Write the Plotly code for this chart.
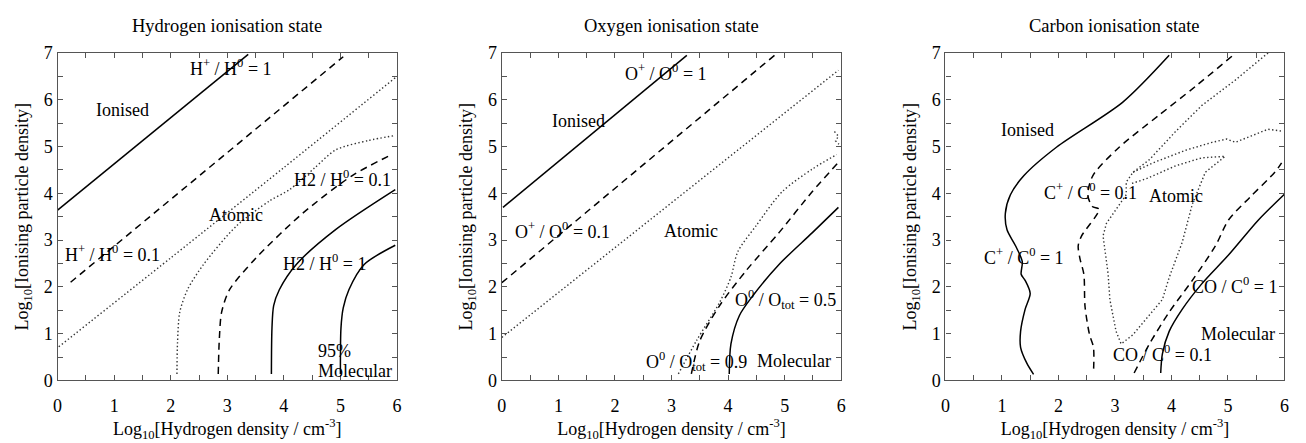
import plotly.graph_objects as go

# ---------------- Data (log10 n_H , log10 ionising particle density) ----------------
# Hydrogen panel
h_ion1_x = [0.0, 3.37]
h_ion1_y = [3.64, 6.97]
h_ion01_x = [0.23, 5.05]
h_ion01_y = [2.10, 6.92]
h_dot1_x = [0.02, 2.0, 4.0, 6.0]
h_dot1_y = [0.72, 2.62, 4.55, 6.50]
h_dot2_x = [2.11, 2.12, 2.16, 2.30, 2.58, 3.16, 3.75, 4.10, 4.55, 4.92, 5.50, 5.94]
h_dot2_y = [0.14, 0.80, 1.46, 1.95, 2.48, 3.30, 3.84, 4.08, 4.55, 4.93, 5.13, 5.23]
h_h2_01_x = [2.84, 2.86, 2.90, 3.04, 3.51, 4.33, 5.21, 5.91]
h_h2_01_y = [0.14, 0.90, 1.46, 1.94, 2.62, 3.57, 4.38, 4.83]
h_h2_1_x = [3.78, 3.79, 3.82, 3.92, 4.22, 4.92, 5.97]
h_h2_1_y = [0.14, 1.12, 1.60, 1.94, 2.48, 3.23, 4.08]
h_95_x = [5.00, 5.01, 5.05, 5.15, 5.42, 5.97]
h_95_y = [0.14, 1.12, 1.55, 1.94, 2.48, 2.89]

# Oxygen panel
o_ion1_x = [0.02, 3.27]
o_ion1_y = [3.70, 6.95]
o_ion01_x = [0.0, 4.84]
o_ion01_y = [2.09, 6.97]
o_dot1_x = [0.0, 5.95]
o_dot1_y = [0.92, 6.63]
o_dot2_x = [3.12, 3.44, 3.85, 4.05, 4.17, 4.49, 4.96, 5.49, 5.92]
o_dot2_y = [0.14, 0.85, 1.67, 2.21, 2.75, 3.30, 4.04, 4.52, 4.83]
o_dot3_x = [5.88, 5.95, 5.90, 5.96]
o_dot3_y = [5.32, 5.22, 5.12, 5.05]
o_09_x = [3.35, 3.50, 3.85, 4.32, 4.90, 5.49, 5.95]
o_09_y = [0.14, 0.85, 1.60, 2.35, 3.16, 4.04, 4.66]
o_05_x = [4.02, 4.05, 4.20, 4.43, 4.90, 5.49, 5.95]
o_05_y = [0.14, 0.78, 1.39, 1.80, 2.48, 3.16, 3.70]

# Carbon panel
c_ion1_x = [3.96, 3.14, 1.97, 1.39, 1.15, 1.06, 1.09, 1.24, 1.36, 1.34, 1.41, 1.50, 1.41, 1.33, 1.33, 1.44, 1.56]
c_ion1_y = [6.95, 5.95, 4.99, 4.38, 3.97, 3.57, 3.22, 2.88, 2.54, 2.27, 2.14, 1.86, 1.52, 1.05, 0.71, 0.37, 0.13]
c_ion01_x = [5.07, 4.43, 3.78, 3.08, 2.61, 2.52, 2.60, 2.72, 2.41, 2.35, 2.38, 2.45, 2.47, 2.55, 2.62, 2.62]
c_ion01_y = [6.93, 6.29, 5.67, 4.99, 4.38, 3.97, 3.72, 3.66, 3.09, 2.88, 2.61, 2.27, 1.59, 0.98, 0.71, 0.16]
c_dotA_x = [5.71, 5.13, 4.54, 4.08, 3.61, 3.32, 3.20, 3.20, 2.85, 2.79, 2.88, 2.91, 3.02, 3.11, 3.32, 3.61,
            3.84, 3.96, 4.19, 4.37, 4.60, 4.95, 4.54, 4.08, 3.55, 3.27]
c_dotA_y = [7.00, 6.42, 5.88, 5.33, 4.72, 4.45, 4.24, 3.97, 3.36, 3.09, 2.27, 1.73, 1.05, 0.78, 0.98, 1.39,
            1.73, 2.20, 2.95, 3.77, 4.45, 4.79, 4.76, 4.59, 4.31, 4.20]
c_dotB_x = [3.32, 3.67, 4.25, 4.72, 4.98, 5.13, 5.42, 5.71, 5.95]
c_dotB_y = [4.45, 4.65, 4.92, 5.09, 5.16, 5.09, 5.23, 5.37, 5.33]
c_co01_x = [3.34, 3.61, 3.96, 4.37, 4.78, 5.01, 5.40, 5.83, 5.95]
c_co01_y = [0.16, 0.78, 1.46, 2.14, 2.88, 3.43, 3.93, 4.45, 4.65]
c_co1_x = [3.81, 3.84, 3.96, 4.19, 4.54, 5.01, 5.54, 6.0]
c_co1_y = [0.16, 0.57, 1.05, 1.52, 2.07, 2.68, 3.43, 3.98]

panel_titles = ["Hydrogen ionisation state", "Oxygen ionisation state", "Carbon ionisation state"]
x_tick_labels = ["0", "1", "2", "3", "4", "5", "6"]
y_tick_labels = ["0", "1", "2", "3", "4", "5", "6", "7"]

# ---------------- Styles ----------------
FONT = "Liberation Serif"
SOLID = dict(color="black", width=1.5)
DASH = dict(color="black", width=1.5, dash="7px,5px")
DOT = dict(color="#333333", width=1.4, dash="1.4px,2.4px")

fig = go.Figure()

def add(x, y, line, ax, smooth=False):
    ln = dict(line)
    if smooth:
        ln["shape"] = "spline"
        ln["smoothing"] = 0.8
    fig.add_trace(go.Scatter(x=x, y=y, mode="lines", line=ln, xaxis="x" + ax, yaxis="y" + ax,
                             showlegend=False, hoverinfo="skip"))

add(h_ion1_x, h_ion1_y, SOLID, "")
add(h_ion01_x, h_ion01_y, DASH, "")
add(h_dot1_x, h_dot1_y, DOT, "", True)
add(h_dot2_x, h_dot2_y, DOT, "", True)
add(h_h2_01_x, h_h2_01_y, DASH, "", True)
add(h_h2_1_x, h_h2_1_y, SOLID, "", True)
add(h_95_x, h_95_y, SOLID, "", True)

add(o_ion1_x, o_ion1_y, SOLID, "2")
add(o_ion01_x, o_ion01_y, DASH, "2")
add(o_dot1_x, o_dot1_y, DOT, "2")
add(o_dot2_x, o_dot2_y, DOT, "2", True)
add(o_dot3_x, o_dot3_y, DOT, "2")
add(o_09_x, o_09_y, DASH, "2", True)
add(o_05_x, o_05_y, SOLID, "2", True)

add(c_ion1_x, c_ion1_y, SOLID, "3", True)
add(c_ion01_x, c_ion01_y, DASH, "3", True)
add(c_dotA_x, c_dotA_y, DOT, "3")
add(c_dotB_x, c_dotB_y, DOT, "3")
add(c_co01_x, c_co01_y, DASH, "3", True)
add(c_co1_x, c_co1_y, SOLID, "3", True)

# ---------------- Layout ----------------
W, H = 1306, 443
doms = [(53 / W, 395 / W), (500.7 / W, 842.7 / W), (947.7 / W, 1289.3 / W)]
ydom = (1 - 388 / H, 1 - 45 / H)

xtv = [i * 0.5 for i in range(13)]
ytv = [i * 0.5 for i in range(15)]
xtt = [x_tick_labels[i // 2] if i % 2 == 0 else "" for i in range(13)]
ytt = [y_tick_labels[i // 2] if i % 2 == 0 else "" for i in range(15)]

common_x = dict(range=[0, 6], tickvals=xtv, ticktext=xtt, ticks="inside", ticklen=5, tickwidth=1,
                tickcolor="#555", showline=True, linecolor="#555", linewidth=1.3, mirror="ticks",
                showgrid=False, zeroline=False, tickfont=dict(family=FONT, size=18, color="black"),
                ticklabelstandoff=9,
                title=dict(text="Log<sub>10</sub>[Hydrogen density / cm<sup>-3</sup>]",
                           font=dict(family=FONT, size=18, color="black"), standoff=6))
common_y = dict(range=[0, 7], tickvals=ytv, ticktext=ytt, ticks="inside", ticklen=5, tickwidth=1,
                tickcolor="#555", showline=True, linecolor="#555", linewidth=1.3, mirror="ticks",
                showgrid=False, zeroline=False, tickfont=dict(family=FONT, size=18, color="black"),
                domain=list(ydom),
                title=dict(text="Log<sub>10</sub>[Ionising particle density]",
                           font=dict(family=FONT, size=18, color="black"), standoff=10))

fig.update_layout(
    width=W, height=H, margin=dict(l=0, r=0, t=0, b=0),
    plot_bgcolor="white", paper_bgcolor="white",
    xaxis=dict(domain=list(doms[0]), anchor="y", **common_x),
    yaxis=dict(anchor="x", **common_y),
    xaxis2=dict(domain=list(doms[1]), anchor="y2", **common_x),
    yaxis2=dict(anchor="x2", **common_y),
    xaxis3=dict(domain=list(doms[2]), anchor="y3", **common_x),
    yaxis3=dict(anchor="x3", **common_y),
    font=dict(family=FONT, size=18, color="black"),
)

ann = []
for i, t in enumerate(panel_titles):
    ann.append(dict(text=t, x=(doms[i][0] + doms[i][1]) / 2, y=1 - 17 / H, xref="paper", yref="paper",
                    xanchor="center", yanchor="middle", showarrow=False,
                    font=dict(family=FONT, size=18.5, color="black")))

labels = [
    ("", "H<sup>+</sup> / H<sup>0</sup> = 1", 3.07, 6.70),
    ("", "Ionised", 1.14, 5.78),
    ("", "H<sup>+</sup> / H<sup>0</sup> = 0.1", 0.97, 2.72),
    ("", "Atomic", 3.16, 3.53),
    ("", "H2 / H<sup>0</sup> = 0.1", 5.03, 4.32),
    ("", "H2 / H<sup>0</sup> = 1", 4.71, 2.52),
    ("", "95%", 4.89, 0.62),
    ("", "Molecular", 5.26, 0.20),
    ("2", "O<sup>+</sup> / O<sup>0</sup> = 1", 2.91, 6.59),
    ("2", "Ionised", 1.36, 5.54),
    ("2", "O<sup>+</sup> / O<sup>0</sup> = 0.1", 1.07, 3.20),
    ("2", "Atomic", 3.35, 3.20),
    ("2", "O<sup>0</sup> / O<sub>tot</sub> = 0.5", 5.02, 1.73),
    ("2", "O<sup>0</sup> / O<sub>tot</sub> = 0.9", 3.44, 0.41),
    ("2", "Molecular", 5.16, 0.41),
    ("3", "Ionised", 1.45, 5.35),
    ("3", "C<sup>+</sup> / C<sup>0</sup> = 0.1", 2.56, 4.03),
    ("3", "Atomic", 4.08, 3.94),
    ("3", "C<sup>+</sup> / C<sup>0</sup> = 1", 1.39, 2.65),
    ("3", "CO / C<sup>0</sup> = 1", 5.11, 2.04),
    ("3", "Molecular", 5.18, 0.99),
    ("3", "CO / C<sup>0</sup> = 0.1", 3.85, 0.58),
]
for ax, txt, x, y in labels:
    ann.append(dict(text=txt, x=x, y=y, xref="x" + ax, yref="y" + ax, showarrow=False,
                    font=dict(family=FONT, size=18, color="black")))

fig.update_layout(annotations=ann)
fig.write_html("out.html")
